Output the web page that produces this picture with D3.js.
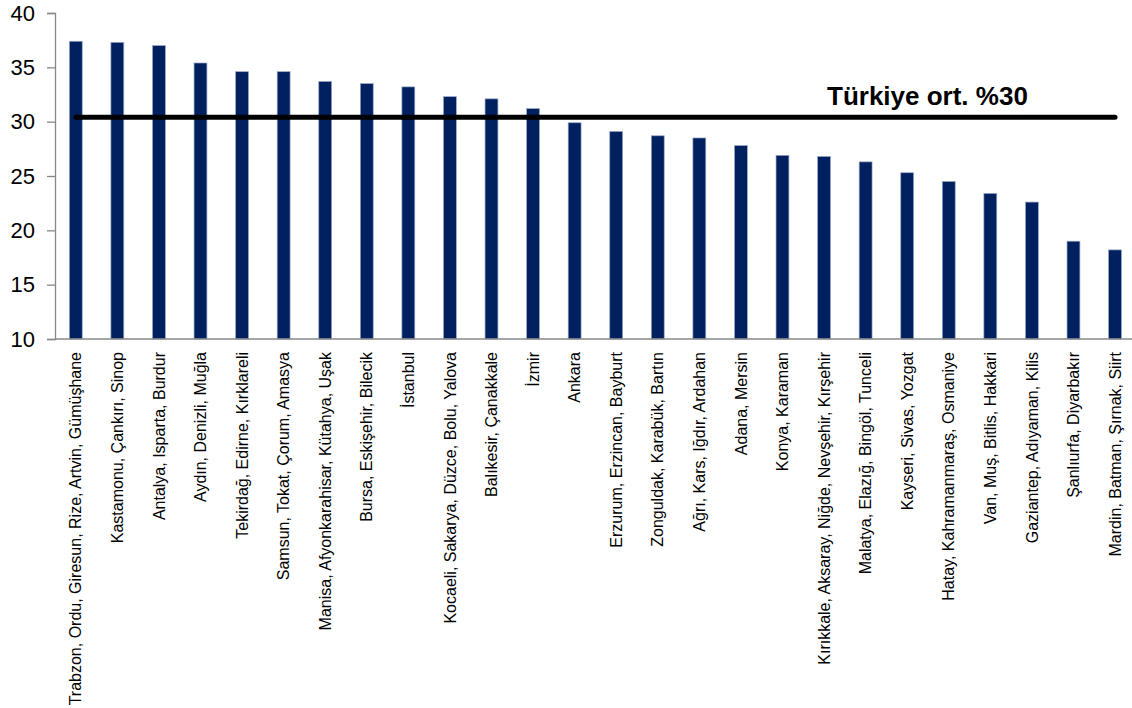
<!DOCTYPE html>
<html>
<head>
<meta charset="utf-8">
<script src="https://cdn.jsdelivr.net/npm/d3@7"></script>
<style>
  body { margin: 0; background: #fff; }
  text { font-family: "Liberation Sans", Arial, sans-serif; }
</style>
</head>
<body>
<div id="chart-area"></div>
<script>
var regions = [
  "Trabzon, Ordu, Giresun, Rize, Artvin, Gümüşhane",
  "Kastamonu, Çankırı, Sinop",
  "Antalya, Isparta, Burdur",
  "Aydın, Denizli, Muğla",
  "Tekirdağ, Edirne, Kırklareli",
  "Samsun, Tokat, Çorum, Amasya",
  "Manisa, Afyonkarahisar, Kütahya, Uşak",
  "Bursa, Eskişehir, Bilecik",
  "İstanbul",
  "Kocaeli, Sakarya, Düzce, Bolu, Yalova",
  "Balıkesir, Çanakkale",
  "İzmir",
  "Ankara",
  "Erzurum, Erzincan, Bayburt",
  "Zonguldak, Karabük, Bartın",
  "Ağrı, Kars, Iğdır, Ardahan",
  "Adana, Mersin",
  "Konya, Karaman",
  "Kırıkkale, Aksaray, Niğde, Nevşehir, Kırşehir",
  "Malatya, Elazığ, Bingöl, Tunceli",
  "Kayseri, Sivas, Yozgat",
  "Hatay, Kahramanmaraş, Osmaniye",
  "Van, Muş, Bitlis, Hakkari",
  "Gaziantep, Adıyaman, Kilis",
  "Şanlıurfa, Diyarbakır",
  "Mardin, Batman, Şırnak, Siirt"
];

var values = [37.4, 37.3, 37.0, 35.4, 34.6, 34.6, 33.7, 33.5, 33.2, 32.3, 32.1, 31.2, 29.9,
  29.1, 28.7, 28.5, 27.8, 26.9, 26.8, 26.3, 25.3, 24.5, 23.4, 22.6, 19.0, 18.2];

var yTicks = [10, 15, 20, 25, 30, 35, 40];
var average = 30.4;
var averageLabel = "Türkiye ort. %30";

var width = 1132, height = 708;
var plotLeft = 55, plotTop = 13, plotBottom = 339;
var step = 41.57;

var svg = d3.select("#chart-area").append("svg")
  .attr("width", width)
  .attr("height", height);

var x = d3.scaleBand()
  .domain(regions)
  .range([plotLeft, plotLeft + step * regions.length])
  .paddingInner(0.69)
  .paddingOuter(0.345);

var y = d3.scaleLinear()
  .domain([10, 40])
  .range([plotBottom, plotTop]);

// bars
svg.selectAll("rect.bar")
  .data(values)
  .enter().append("rect")
  .attr("class", "bar")
  .attr("x", function(d, i) { return x(regions[i]); })
  .attr("y", function(d) { return y(d); })
  .attr("width", x.bandwidth())
  .attr("height", function(d) { return y(10) - y(d); })
  .attr("fill", "#002060")
  .attr("stroke", "#9aa8c8")
  .attr("stroke-width", 0.7);

// y axis
var yAxis = svg.append("g")
  .attr("transform", "translate(" + plotLeft + ",0)")
  .call(d3.axisLeft(y).tickValues(yTicks).tickSize(8).tickPadding(12));
yAxis.select(".domain").attr("stroke", "#888").attr("stroke-width", 1.3);
yAxis.selectAll(".tick line").attr("stroke", "#888").attr("stroke-width", 1.3);
yAxis.selectAll(".tick text")
  .attr("font-size", 22)
  .attr("fill", "#000")
  .style("font-family", "'Liberation Sans', Arial, sans-serif");

// x axis
var xAxis = svg.append("g")
  .attr("transform", "translate(0," + plotBottom + ")")
  .call(d3.axisBottom(x).tickSize(0).tickPadding(0));
xAxis.select(".domain").attr("d", "M" + plotLeft + ",0H" + width).attr("stroke", "#888").attr("stroke-width", 1.3);
xAxis.selectAll(".tick text")
  .attr("transform", "rotate(-90)")
  .attr("text-anchor", "end")
  .attr("x", -13)
  .attr("y", 0)
  .attr("dy", "0.35em")
  .attr("font-size", 16)
  .attr("fill", "#000")
  .style("font-family", "'Liberation Sans', Arial, sans-serif");

// average line
var firstC = x(regions[0]) + x.bandwidth() / 2;
var lastC = x(regions[regions.length - 1]) + x.bandwidth() / 2;
svg.append("line")
  .attr("x1", firstC)
  .attr("x2", lastC)
  .attr("y1", y(average))
  .attr("y2", y(average))
  .attr("stroke", "#000")
  .attr("stroke-width", 5)
  .attr("stroke-linecap", "round");

svg.append("text")
  .attr("x", 827)
  .attr("y", y(average) - 12)
  .attr("font-size", 26)
  .attr("font-weight", "bold")
  .attr("fill", "#000")
  .text(averageLabel);
</script>
</body>
</html>
